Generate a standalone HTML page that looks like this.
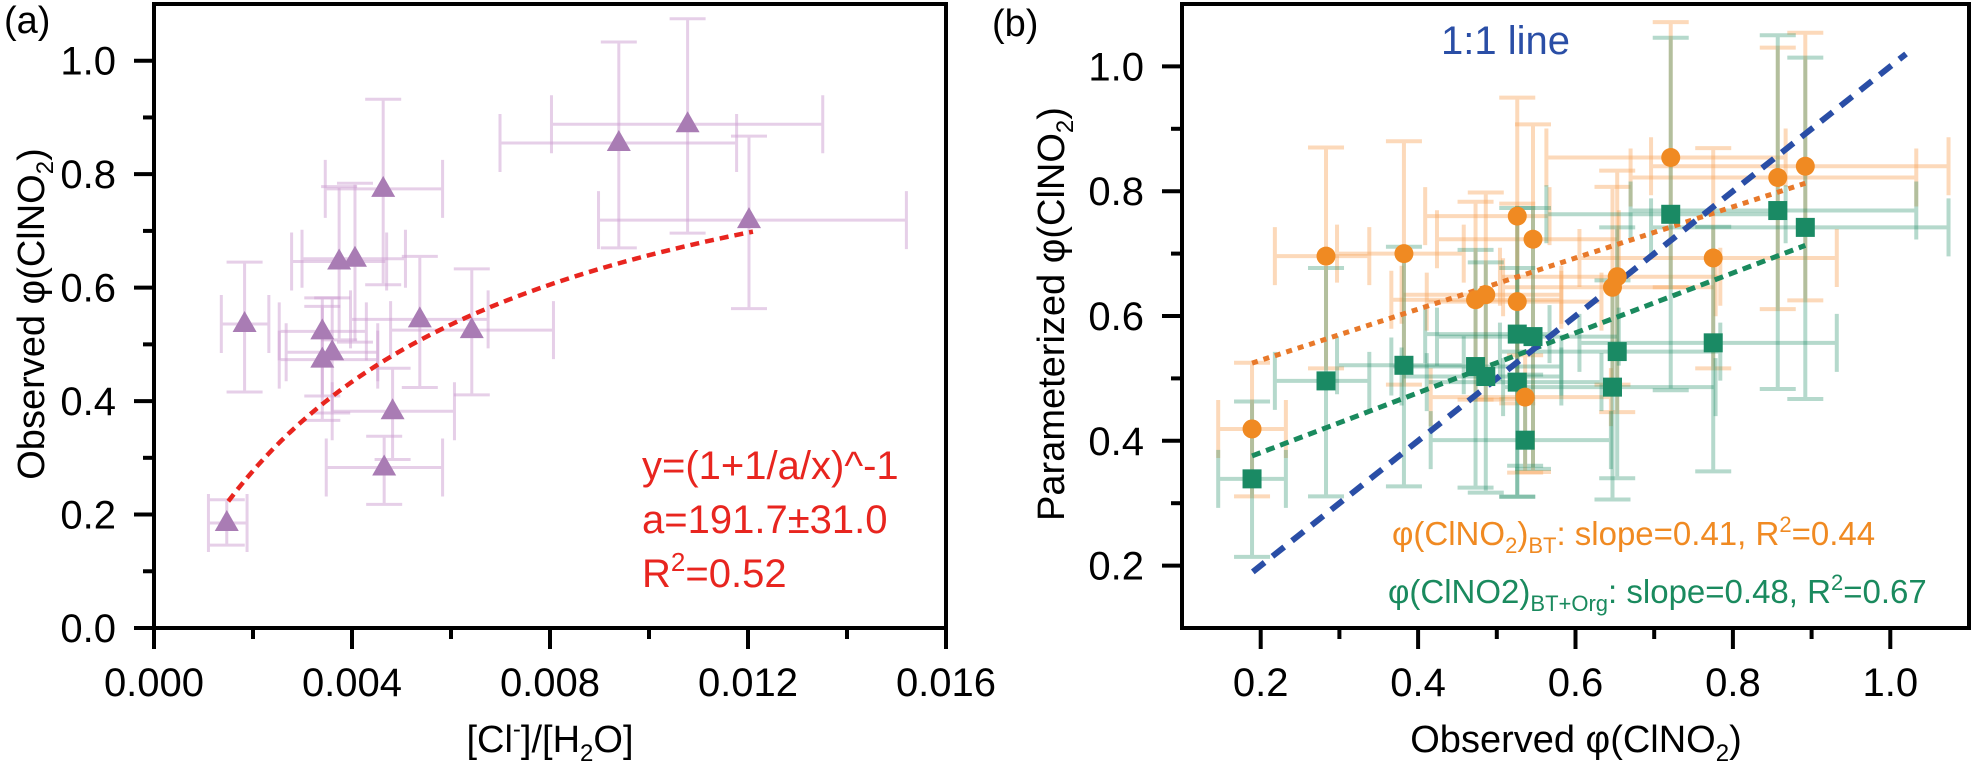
<!DOCTYPE html>
<html><head><meta charset="utf-8"><style>
html,body{margin:0;padding:0;background:#fff;}
svg{display:block;font-family:"Liberation Sans",Arial,sans-serif;}
</style></head><body>
<svg id="chart" width="1976" height="768" viewBox="0 0 1976 768" xmlns="http://www.w3.org/2000/svg">
<g id="pa"></g>
<g id="pb"></g>
</svg>
<script>
// ---------- Panel (a) data ----------
const aX   = [0.00147,0.00183,0.00340,0.00340,0.00360,0.00374,0.00406,0.00463,0.00537,0.00642,0.00482,0.00465,0.00939,0.01078,0.01202];
const aXlo = [0.00110,0.00136,0.00253,0.00253,0.00267,0.00278,0.00299,0.00346,0.00397,0.00478,0.00360,0.00348,0.00699,0.00803,0.00898];
const aXhi = [0.00188,0.00232,0.00429,0.00452,0.00452,0.00470,0.00508,0.00583,0.00675,0.00807,0.00607,0.00583,0.01177,0.01351,0.01520];
const aY   = [0.185,0.536,0.523,0.473,0.486,0.646,0.651,0.774,0.544,0.525,0.382,0.283,0.855,0.888,0.719];
const aYlo = [0.146,0.416,0.409,0.366,0.379,0.508,0.504,0.605,0.424,0.411,0.297,0.218,0.670,0.696,0.563];
const aYhi = [0.226,0.645,0.567,0.582,0.582,0.778,0.784,0.932,0.655,0.633,0.458,0.338,1.033,1.074,0.867];
const aFitA = [191.7];
const aFitRange = [0.0015,0.0121];
const aXTicks = ["0.000","0.004","0.008","0.012","0.016"];
const aYTicks = ["0.0","0.2","0.4","0.6","0.8","1.0"];

// ---------- Panel (b) data ----------
const obs   = [0.189,0.283,0.382,0.473,0.486,0.526,0.526,0.546,0.536,0.647,0.653,0.721,0.775,0.857,0.892];
const obsLo = [0.146,0.218,0.297,0.366,0.379,0.409,0.411,0.424,0.416,0.508,0.504,0.563,0.605,0.670,0.696];
const obsHi = [0.232,0.338,0.458,0.582,0.582,0.567,0.633,0.655,0.645,0.778,0.784,0.867,0.932,1.033,1.074];
const bt    = [0.419,0.696,0.700,0.626,0.634,0.760,0.623,0.723,0.470,0.646,0.663,0.854,0.693,0.822,0.840];
const btLo  = [0.311,0.516,0.490,0.466,0.466,0.467,0.460,0.350,0.349,0.490,0.446,0.646,0.516,0.611,0.625];
const btHi  = [0.525,0.870,0.880,0.783,0.798,0.950,0.780,0.907,0.537,0.807,0.833,1.071,0.869,1.030,1.054];
const org   = [0.339,0.496,0.521,0.519,0.503,0.571,0.494,0.567,0.401,0.486,0.543,0.763,0.557,0.769,0.742];
const orgLo = [0.214,0.311,0.327,0.325,0.317,0.310,0.311,0.355,0.360,0.306,0.340,0.481,0.351,0.483,0.467];
const orgHi = [0.463,0.677,0.711,0.706,0.686,0.773,0.677,0.773,0.506,0.657,0.742,1.046,0.743,1.050,1.014];
const btFit  = [0.41,0.447];   // slope, intercept
const orgFit = [0.48,0.285];
const fitRange = [0.189,0.892];
const oneToOne = [0.19,1.02];
const bXTicks = ["0.2","0.4","0.6","0.8","1.0"];
const bYTicks = ["0.2","0.4","0.6","0.8","1.0"];

const NS="http://www.w3.org/2000/svg";
function mk(parent,tag,attrs){const e=document.createElementNS(NS,tag);for(const k in attrs)e.setAttribute(k,attrs[k]);parent.appendChild(e);return e;}

// ---------- Axes (a) ----------
const A={l:154,r:946,t:4,b:628,x0:0,x1:0.016,y0:0,y1:1.1};
const B={l:1182,r:1969,t:4,b:628,x0:0.1,x1:1.1,y0:0.1,y1:1.1};
function sx(P,v){return P.l+(v-P.x0)/(P.x1-P.x0)*(P.r-P.l);}
function sy(P,v){return P.b-(v-P.y0)/(P.y1-P.y0)*(P.b-P.t);}

function frame(g,P,xt,yt,xMinor,yMinor){
  const f=mk(g,'rect',{x:P.l,y:P.t,width:P.r-P.l,height:P.b-P.t,fill:'none',stroke:'#000','stroke-width':4});
  
  
  xt.forEach(t=>{const v=parseFloat(t),X=sx(P,v);
    const l=mk(g,'line',{x1:X,x2:X,y1:P.b,y2:P.b+21,stroke:'#000','stroke-width':4});
    
    
    const tx=mk(g,'text',{x:X,y:696,'font-size':40,'text-anchor':'middle',fill:'#000'});tx.textContent=t;
    
    
  });
  xMinor.forEach(v=>{const X=sx(P,v);
    const l=mk(g,'line',{x1:X,x2:X,y1:P.b,y2:P.b+11,stroke:'#000','stroke-width':4});
    
    });
  yt.forEach(t=>{const v=parseFloat(t),Y=sy(P,v);
    const l=mk(g,'line',{x1:P.l-20,x2:P.l,y1:Y,y2:Y,stroke:'#000','stroke-width':4});
    
    
    const tx=mk(g,'text',{x:P.l-38,y:Y+14,'font-size':40,'text-anchor':'end',fill:'#000'});tx.textContent=t;
    
    
  });
  yMinor.forEach(v=>{const Y=sy(P,v);
    const l=mk(g,'line',{x1:P.l-11,x2:P.l,y1:Y,y2:Y,stroke:'#000','stroke-width':4});
    
    });
}
function errbar(g,P,x,y,xlo,xhi,ylo,yhi,col,w){
  const X=sx(P,x),Y=sy(P,y),d=[];
  const X1=sx(P,xlo),X2=sx(P,xhi),Y1=sy(P,ylo),Y2=sy(P,yhi);
  d.push(`M${X1},${Y}H${X2}`,`M${X1},${Y-29}V${Y+29}`,`M${X2},${Y-29}V${Y+29}`);
  d.push(`M${X},${Y1}V${Y2}`,`M${X-18},${Y1}H${X+18}`,`M${X-18},${Y2}H${X+18}`);
  const p=mk(g,'path',{d:d.join(''),stroke:col,'stroke-width':w,fill:'none'});
  
  
}

// ---------- Panel a ----------
const ga=document.getElementById('pa');
frame(ga,A,aXTicks,aYTicks,[0.002,0.006,0.010,0.014],[0.1,0.3,0.5,0.7,0.9]);
aX.forEach((x,i)=>errbar(ga,A,x,aY[i],aXlo[i],aXhi[i],aYlo[i],aYhi[i],'rgba(205,160,210,0.5)',3));
{
  const a=aFitA[0],pts=[];
  for(let k=0;k<=60;k++){const x=aFitRange[0]+(aFitRange[1]-aFitRange[0])*k/60;pts.push(sx(A,x)+','+sy(A,1/(1+1/(a*x))));}
  const p=mk(ga,'polyline',{points:pts.join(' '),fill:'none',stroke:'#e8251f','stroke-width':4.5,'stroke-dasharray':'9,6'});
  
  
}
aX.forEach((x,i)=>{const X=sx(A,x),Y=sy(A,aY[i]);
  const t=mk(ga,'polygon',{points:`${X},${Y-13} ${X-12},${Y+8} ${X+12},${Y+8}`,fill:'#a97cb4'});
  
  
});
ga.insertAdjacentHTML('beforeend',`
<text x="4" y="33" font-size="38">(a)</text>
<text x="642" y="479" font-size="40" fill="#e8251f">y=(1+1/a/x)^-1</text>
<text x="642" y="533" font-size="40" fill="#e8251f">a=191.7±31.0</text>
<text x="642" y="587" font-size="40" fill="#e8251f">R<tspan font-size="26" dy="-16">2</tspan><tspan dy="16">=0.52</tspan></text>
<text x="550" y="752" font-size="38" text-anchor="middle">[Cl<tspan font-size="24" dy="-15">-</tspan><tspan dy="15">]/[H</tspan><tspan font-size="24" dy="9">2</tspan><tspan dy="-9">O]</tspan></text>
<text transform="translate(44,314) rotate(-90)" font-size="38" text-anchor="middle">Observed φ(ClNO<tspan font-size="24" dy="9">2</tspan><tspan dy="-9">)</tspan></text>
`);

// ---------- Panel b ----------
const gb=document.getElementById('pb');
frame(gb,B,bXTicks,bYTicks,[0.3,0.5,0.7,0.9],[0.3,0.5,0.7,0.9]);
obs.forEach((x,i)=>errbar(gb,B,x,bt[i],obsLo[i],obsHi[i],btLo[i],btHi[i],'rgba(248,165,90,0.42)',4));
obs.forEach((x,i)=>errbar(gb,B,x,org[i],obsLo[i],obsHi[i],orgLo[i],orgHi[i],'rgba(30,140,100,0.33)',4));
function fitLine(fit,col,dash,w,name){
  const x1=fitRange[0],x2=fitRange[1];
  const l=mk(gb,'line',{x1:sx(B,x1),y1:sy(B,fit[0]*x1+fit[1]),x2:sx(B,x2),y2:sy(B,fit[0]*x2+fit[1]),stroke:col,'stroke-width':w,'stroke-dasharray':dash});
  
  
}
fitLine(btFit,'#e8792a','6,6',5,'bt-fit-line');
fitLine(orgFit,'#1a8a5e','9,6',5,'bt-org-fit-line');
{
  const l=mk(gb,'line',{x1:sx(B,oneToOne[0]),y1:sy(B,oneToOne[0]),x2:sx(B,oneToOne[1]),y2:sy(B,oneToOne[1]),stroke:'#2a4ea6','stroke-width':6,'stroke-dasharray':'15,10'});
  
  
}
obs.forEach((x,i)=>{
  const c=mk(gb,'circle',{cx:sx(B,x),cy:sy(B,bt[i]),r:9.5,fill:'#f08a22'});
  
  
  const s=mk(gb,'rect',{x:sx(B,x)-9.5,y:sy(B,org[i])-9.5,width:19,height:19,fill:'#1a8a64'});
  
  
});
gb.insertAdjacentHTML('beforeend',`
<text x="992" y="36" font-size="38">(b)</text>
<text x="1441" y="54" font-size="40" fill="#2a4ea6">1:1 line</text>
<text x="1392" y="545" font-size="33" fill="#f08a22">φ(ClNO<tspan font-size="22" dy="8">2</tspan><tspan dy="-8">)</tspan><tspan font-size="22" dy="8">BT</tspan><tspan dy="-8">: slope=0.41, R</tspan><tspan font-size="22" dy="-13">2</tspan><tspan dy="13">=0.44</tspan></text>
<text x="1388" y="603" font-size="33" fill="#1a8a5e">φ(ClNO2)<tspan font-size="22" dy="8">BT+Org</tspan><tspan dy="-8">: slope=0.48, R</tspan><tspan font-size="22" dy="-13">2</tspan><tspan dy="13">=0.67</tspan></text>
<text x="1576" y="752" font-size="38" text-anchor="middle">Observed φ(ClNO<tspan font-size="24" dy="9">2</tspan><tspan dy="-9">)</tspan></text>
<text transform="translate(1064,314) rotate(-90)" font-size="38" text-anchor="middle">Parameterized φ(ClNO<tspan font-size="24" dy="9">2</tspan><tspan dy="-9">)</tspan></text>
`);
</script>
</body></html>
